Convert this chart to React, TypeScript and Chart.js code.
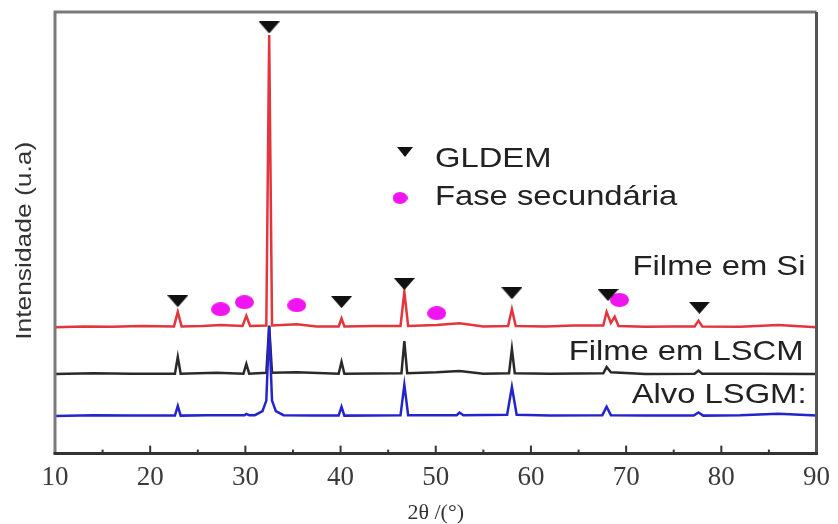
import React, { useEffect, useRef } from 'react';
import { Chart, registerables } from 'chart.js';

Chart.register(...registerables);

// ---- data (2θ in degrees, intensity in arbitrary units, offset traces) ----
const xMajorTicks = [10, 20, 30, 40, 50, 60, 70, 80, 90];
const xMinorTicks = [15, 25, 35, 45, 55, 65, 75, 85];

const redFilmSi: [number, number][] = [
  [10, 28.6], [13, 28.8], [16, 28.7], [19, 28.9], [22.5, 28.8], [22.9, 32.1], [23.3, 28.8],
  [25.5, 28.9], [27.4, 29.1], [29.7, 28.9], [30.1, 31.2], [30.5, 28.9], [32.2, 29.0],
  [32.5, 94.8], [32.8, 29.0], [35.4, 29.3], [37.5, 28.8], [39.8, 28.8], [40.1, 30.6],
  [40.4, 28.8], [43.5, 28.9], [46.3, 28.9], [46.7, 36.6], [47.1, 28.9], [50.1, 29.1],
  [52.5, 29.5], [55.0, 28.8], [57.6, 28.9], [58.0, 32.7], [58.4, 28.9], [61.5, 28.8],
  [64.5, 29.0], [67.6, 29.0], [67.95, 32.1], [68.4, 29.6], [68.8, 31.0], [69.2, 28.9],
  [72.0, 28.7], [75.0, 28.8], [77.2, 28.8], [77.6, 30.1], [78.0, 28.8], [82.0, 28.7],
  [86.0, 29.1], [90, 28.6],
];

const blackFilmLSCM: [number, number][] = [
  [10, 18.0], [14, 18.2], [18, 18.1], [22.6, 18.1], [22.9, 21.9], [23.2, 18.1],
  [27.0, 18.3], [29.8, 18.1], [30.1, 20.3], [30.4, 18.1], [32.2, 18.3], [32.5, 29.0],
  [32.8, 18.3], [35.4, 18.4], [39.8, 18.1], [40.1, 20.8], [40.4, 18.1], [46.4, 18.2],
  [46.7, 25.5], [47.0, 18.2], [50.1, 18.4], [52.5, 18.7], [55.0, 18.1], [57.7, 18.2],
  [58.0, 23.7], [58.3, 18.2], [62.0, 18.1], [67.6, 18.2], [67.95, 19.6], [68.4, 18.4],
  [72.0, 18.0], [77.2, 18.1], [77.6, 18.8], [78.0, 18.1], [84.0, 18.1], [90, 18.0],
];

const blueTargetLSGM: [number, number][] = [
  [10, 8.5], [14, 8.7], [18, 8.6], [22.6, 8.6], [22.9, 10.8], [23.2, 8.6], [26.0, 8.7],
  [29.9, 8.7], [30.1, 9.0], [30.4, 8.7], [31.0, 8.7], [31.8, 9.6], [32.2, 12.0],
  [32.5, 28.7], [32.8, 12.0], [33.2, 9.6], [34.0, 8.7], [37.0, 8.6], [39.8, 8.6],
  [40.1, 10.6], [40.4, 8.6], [46.3, 8.7], [46.7, 15.6], [47.1, 8.7], [52.2, 8.7],
  [52.5, 9.3], [52.9, 8.7], [57.5, 8.8], [58.0, 15.1], [58.5, 8.8], [62.0, 8.6],
  [67.5, 8.7], [67.95, 10.6], [68.4, 8.7], [72.0, 8.6], [77.1, 8.6], [77.6, 9.3],
  [78.1, 8.6], [82.0, 8.7], [86.0, 9.0], [90, 8.6],
];

const gldemMarks: [number, number][] = [
  [22.9, 34.5], [32.5, 96.5], [40.1, 34.3], [46.7, 38.4], [58.0, 36.3], [68.1, 35.9], [77.7, 33.0],
];

const secondaryMarks: [number, number][] = [
  [27.4, 32.7], [29.9, 34.3], [35.4, 33.6], [50.1, 31.8], [69.3, 34.8],
];

const traceLabels = ['Filme em Si', 'Filme em LSCM', 'Alvo LSGM:'];
const legendLabels = ['GLDEM', 'Fase secundária'];
const yTitle = 'Intensidade (u.a)';
const xTitle = '2θ /(°)';

function makeTriangle(w: number, h: number, color: string) {
  const c = document.createElement('canvas');
  c.width = w;
  c.height = h;
  const ctx = c.getContext('2d')!;
  ctx.fillStyle = color;
  ctx.beginPath();
  ctx.moveTo(0, 0);
  ctx.lineTo(w, 0);
  ctx.lineTo(w / 2, h);
  ctx.closePath();
  ctx.fill();
  return c;
}

function makeEllipse(w: number, h: number, color: string) {
  const c = document.createElement('canvas');
  c.width = w;
  c.height = h;
  const ctx = c.getContext('2d')!;
  ctx.fillStyle = color;
  ctx.beginPath();
  ctx.ellipse(w / 2, h / 2, w / 2, h / 2, 0, 0, Math.PI * 2);
  ctx.fill();
  return c;
}

const toXY = (arr: [number, number][]) => arr.map(([x, y]) => ({ x, y }));

export default function App() {
  const ref = useRef<HTMLCanvasElement | null>(null);

  useEffect(() => {
    if (!ref.current) return;
    const tri = makeTriangle(21, 12, '#111111');
    const dot = makeEllipse(19, 14, '#f014f0');
    const legTri = makeTriangle(16, 10, '#111111');
    const legDot = makeEllipse(15, 12, '#f014f0');

    const drawStretchedText = (
      ctx: CanvasRenderingContext2D, text: string, x: number, y: number,
      align: 'left' | 'right', font: string, sx: number, color: string,
    ) => {
      ctx.save();
      ctx.font = font;
      ctx.fillStyle = color;
      ctx.textBaseline = 'alphabetic';
      const w = ctx.measureText(text).width * sx;
      ctx.translate(align === 'right' ? x - w : x, y);
      ctx.scale(sx, 1);
      ctx.textAlign = 'left';
      ctx.fillText(text, 0, 0);
      ctx.restore();
    };

    const decor = {
      id: 'decor',
      afterDraw(chart: any) {
        const { ctx, chartArea } = chart;
        const xs = chart.scales.x;
        const { left, right, top, bottom } = chartArea;
        ctx.save();
        // inward ticks
        ctx.strokeStyle = '#333';
        ctx.lineWidth = 2;
        xMajorTicks.forEach((v) => {
          const px = xs.getPixelForValue(v);
          ctx.beginPath();
          ctx.moveTo(px, bottom);
          ctx.lineTo(px, bottom - 8);
          ctx.stroke();
        });
        xMinorTicks.forEach((v) => {
          const px = xs.getPixelForValue(v);
          ctx.beginPath();
          ctx.moveTo(px, bottom);
          ctx.lineTo(px, bottom - 4);
          ctx.stroke();
        });
        // frame
        ctx.lineWidth = 3;
        ctx.strokeStyle = '#7a7a7a';
        ctx.beginPath();
        ctx.moveTo(left, bottom);
        ctx.lineTo(left, top);
        ctx.lineTo(right, top);
        ctx.stroke();
        ctx.strokeStyle = '#555';
        ctx.beginPath();
        ctx.moveTo(right, top);
        ctx.lineTo(right, bottom);
        ctx.stroke();
        ctx.strokeStyle = '#333';
        ctx.beginPath();
        ctx.moveTo(left - 1.5, bottom);
        ctx.lineTo(right + 1.5, bottom);
        ctx.stroke();

        // y title (rotated, stretched along its length)
        ctx.save();
        ctx.font = '22px "Liberation Sans", Arial, sans-serif';
        ctx.fillStyle = '#333';
        ctx.translate(left - 30, (top + bottom) / 2 + 8);
        ctx.rotate(-Math.PI / 2);
        ctx.scale(1.2, 1);
        ctx.textAlign = 'center';
        ctx.textBaseline = 'middle';
        ctx.fillText(yTitle, 0, 0);
        ctx.restore();

        // trace labels
        const f = '28px "Liberation Sans", Arial, sans-serif';
        drawStretchedText(ctx, traceLabels[0], right - 11, 275, 'right', f, 1.17, '#222');
        drawStretchedText(ctx, traceLabels[1], right - 13, 360, 'right', f, 1.17, '#222');
        drawStretchedText(ctx, traceLabels[2], right - 10, 403, 'right', f, 1.17, '#222');

        // legend
        ctx.drawImage(legTri, 405 - legTri.width / 2, 152 - legTri.height / 2);
        ctx.drawImage(legDot, 400 - legDot.width / 2, 198 - legDot.height / 2);
        drawStretchedText(ctx, legendLabels[0], 435, 167, 'left', f, 1.17, '#222');
        drawStretchedText(ctx, legendLabels[1], 435, 205, 'left', f, 1.17, '#222');
        ctx.restore();
      },
    };

    const chart = new Chart(ref.current, {
      type: 'scatter',
      data: {
        datasets: [
          {
            label: 'GLDEM',
            data: toXY(gldemMarks),
            pointStyle: tri as any,
            pointRadius: 10,
            showLine: false,
            order: 0,
          },
          {
            label: 'Fase secundária',
            data: toXY(secondaryMarks),
            pointStyle: dot as any,
            pointRadius: 10,
            showLine: false,
            order: 0,
          },
          {
            label: 'Alvo LSGM',
            data: toXY(blueTargetLSGM),
            showLine: true,
            borderColor: '#2424cc',
            borderWidth: 2.5,
            pointRadius: 0,
            order: 1,
          },
          {
            label: 'Filme em LSCM',
            data: toXY(blackFilmLSCM),
            showLine: true,
            borderColor: '#2a2a2a',
            borderWidth: 2.5,
            pointRadius: 0,
            order: 2,
          },
          {
            label: 'Filme em Si',
            data: toXY(redFilmSi),
            showLine: true,
            borderColor: '#e4343c',
            borderWidth: 2.5,
            pointRadius: 0,
            order: 3,
          },
        ],
      },
      options: {
        animation: false,
        responsive: false,
        maintainAspectRatio: false,
        devicePixelRatio: 1,
        events: [],
        layout: { padding: { left: 55, right: 20, top: 12, bottom: 0 } },
        plugins: {
          legend: { display: false },
          tooltip: { enabled: false },
        },
        scales: {
          x: {
            type: 'linear',
            min: 10,
            max: 90,
            grid: { display: false, drawTicks: false },
            border: { display: false },
            ticks: {
              stepSize: 10,
              maxRotation: 0,
              autoSkip: false,
              padding: 8,
              color: '#3a3a3a',
              font: { family: '"Liberation Serif", "Times New Roman", serif', size: 27 },
            },
            title: {
              display: true,
              text: xTitle,
              color: '#333',
              padding: { top: 0, bottom: 0 },
              font: { family: '"Liberation Serif", "Times New Roman", serif', size: 22, lineHeight: 1 },
            },
          },
          y: {
            display: false,
            min: 0,
            max: 100,
          },
        },
      },
      plugins: [decor],
    });
    return () => chart.destroy();
  }, []);

  return (
    <div style={{ position: 'fixed', left: 0, top: 0, width: 838, height: 524, background: '#fff' }}>
      <canvas ref={ref} width={838} height={524} style={{ display: 'block', width: 838, height: 524 }} />
    </div>
  );
}
